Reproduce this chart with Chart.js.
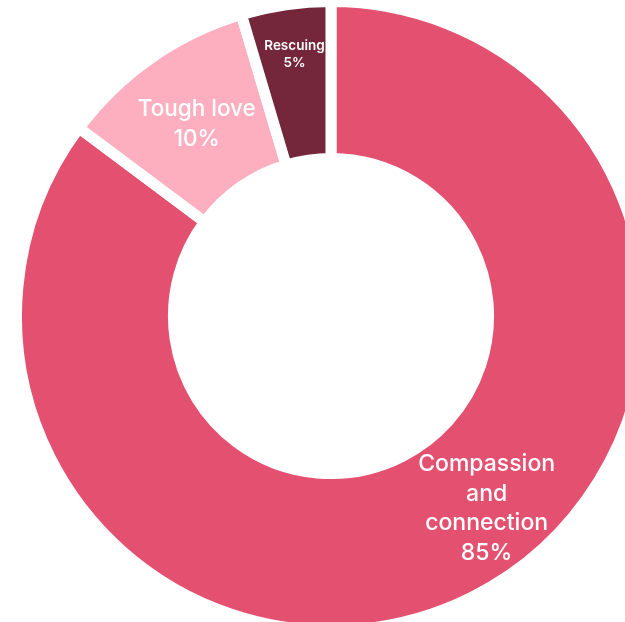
<!DOCTYPE html>
<html>
<head>
<meta charset="utf-8">
<script src="https://cdn.jsdelivr.net/npm/chart.js@4"></script>
<style>
  html, body { margin: 0; padding: 0; background: #fff; overflow: hidden; }
  canvas { display: block; }
</style>
</head>
<body>
<canvas id="donut" width="662" height="632"></canvas>
<script>
var labels = [["Compassion", "and", "connection"], ["Tough love"], ["Rescuing"]];
var values = [85.2, 10.2, 4.6];
var colors = ["#E4506F", "#FDAFC0", "#74263A"];

// where each label sits inside its slice (fraction of angle, fraction of ring depth)
var labelPlace = [
    { a: 0.46, r: 0.575, size: 23, weight: "500", lh: 29.5 },
    { a: 0.50, r: 0.49, size: 22.5, weight: "500", lh: 30 },
    { a: 0.52, r: 0.68, size: 13.5, weight: "600", lh: 17 }
];

var sliceLabels = {
    id: "sliceLabels",
    afterDatasetsDraw: function(chart) {
        var ctx = chart.ctx;
        var arcs = chart.getDatasetMeta(0).data;
        arcs.forEach(function(arc, i) {
            var p = labelPlace[i];
            var ang = arc.startAngle + p.a * (arc.endAngle - arc.startAngle);
            var rad = arc.innerRadius + p.r * (arc.outerRadius - arc.innerRadius);
            var x = arc.x + Math.cos(ang) * rad;
            var y = arc.y + Math.sin(ang) * rad;
            var lines = labels[i].concat([Math.round(values[i]) + "%"]);
            ctx.save();
            ctx.fillStyle = "#fff";
            ctx.textAlign = "center";
            ctx.textBaseline = "middle";
            ctx.font = p.weight + " " + p.size + "px Inter";
            var top = y - (lines.length - 1) * p.lh / 2;
            lines.forEach(function(t, j) {
                ctx.fillText(t, x, top + j * p.lh);
            });
            ctx.restore();
        });
    }
};

new Chart(document.getElementById("donut"), {
    type: 'doughnut',
    data: {
        labels: labels.map(function(l) { return l.join(" "); }),
        datasets: [{
            data: values,
            backgroundColor: colors,
            borderColor: "#fff",
            borderWidth: 11,
            borderJoinStyle: 'miter'
        }]
    },
    options: {
        responsive: false,
        animation: false,
        radius: 314.5,
        cutout: '50.1%',
        plugins: {
            legend: { display: false },
            tooltip: { enabled: false }
        }
    },
    plugins: [sliceLabels]
});
</script>
</body>
</html>
